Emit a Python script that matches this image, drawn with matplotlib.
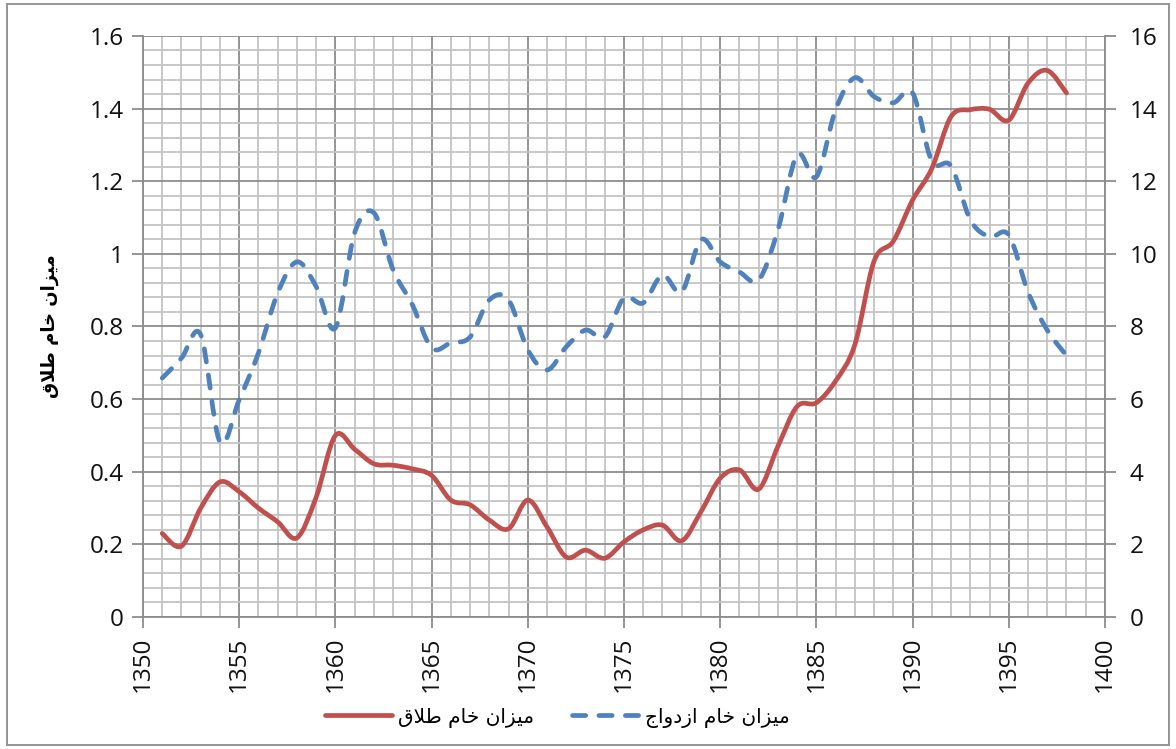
import numpy as np
import matplotlib.pyplot as plt
from matplotlib.path import Path
from matplotlib.patches import PathPatch, Rectangle
from matplotlib.lines import Line2D

#%% DATA
years = list(range(1351, 1399))

# crude divorce rate (left axis)
divorce = [0.23, 0.195, 0.30, 0.372, 0.345, 0.30, 0.262, 0.218, 0.33, 0.50,
           0.462, 0.422, 0.418, 0.408, 0.39, 0.322, 0.309, 0.267, 0.243, 0.322,
           0.248, 0.165, 0.184, 0.162, 0.207, 0.24, 0.253, 0.21, 0.29, 0.382,
           0.405, 0.352, 0.47, 0.58, 0.59, 0.65, 0.75, 0.98, 1.035, 1.148,
           1.235, 1.378, 1.397, 1.398, 1.368, 1.47, 1.505, 1.443]

# crude marriage rate (right axis)
marriage = [6.58, 7.13, 7.77, 4.82, 5.98, 7.27, 8.92, 9.78, 9.1, 7.96,
            10.58, 11.13, 9.56, 8.6, 7.41, 7.55, 7.71, 8.73, 8.73, 7.36,
            6.8, 7.44, 7.9, 7.71, 8.79, 8.65, 9.42, 8.95, 10.39, 9.78,
            9.5, 9.28, 10.66, 12.73, 12.12, 13.97, 14.85, 14.33, 14.16, 14.43,
            12.55, 12.42, 10.94, 10.47, 10.52, 8.95, 7.9, 7.2]

xticks = [1350, 1355, 1360, 1365, 1370, 1375, 1380, 1385, 1390, 1395, 1400]
left_ticks = [0, 0.2, 0.4, 0.6, 0.8, 1, 1.2, 1.4, 1.6]
left_labels = ["0", "0.2", "0.4", "0.6", "0.8", "1", "1.2", "1.4", "1.6"]
right_ticks = [0, 2, 4, 6, 8, 10, 12, 14, 16]

# persian labels, pre-shaped (presentation forms, visual order)
lbl_divorce = "\uFED5\uFEFC\uFEC3 \uFEE1\uFE8E\uFEA7 \uFEE5\uFE8D\uFEB0\uFEF4\uFEE3"
lbl_marriage = "\uFE9D\uFE8D\uFEED\uFEA9\uFEAF\uFE8D \uFEE1\uFE8E\uFEA7 \uFEE5\uFE8D\uFEB0\uFEF4\uFEE3"

RED = "#C0504D"
BLUE = "#4F81BD"
LW = 3.4
DASH = (0, (2.8, 2.8))


def smooth_path(x, y):
    # excel-like smoothed line: bezier segments through the points
    x = np.asarray(x, float)
    y = np.asarray(y, float)
    pts = np.column_stack([x, y])
    n = len(pts)
    verts = [pts[0]]
    codes = [Path.MOVETO]
    for i in range(n - 1):
        p0 = pts[i - 1] if i > 0 else pts[i]
        p1 = pts[i]
        p2 = pts[i + 1]
        p3 = pts[i + 2] if i + 2 < n else pts[i + 1]
        c1 = p1 + (p2 - p0) / 6.0
        c2 = p2 - (p3 - p1) / 6.0
        verts += [c1, c2, p2]
        codes += [Path.CURVE4] * 3
    return Path(verts, codes)


plt.rcParams['font.family'] = ['Open Sans', 'DejaVu Sans']

fig = plt.figure(figsize=(11.76, 7.49), dpi=100)
ax = fig.add_axes([0.1216, 0.1762, 0.8180, 0.7758])
ax2 = ax.twinx()

ax.set_xlim(1350, 1400)
ax.set_ylim(0, 1.6)
ax2.set_ylim(0, 16)

# grid
ax.set_xticks(xticks)
ax.set_xticks(np.arange(1350, 1401, 1), minor=True)
ax.set_yticks(left_ticks)
ax.set_yticks(np.arange(0, 1.61, 0.04), minor=True)
ax.grid(which='minor', color='#C4C4C4', linewidth=1.3)
ax.grid(which='major', color='#8C8C8C', linewidth=1.3)
ax.set_axisbelow(True)

ax.set_xticklabels([str(t) for t in xticks], rotation=90)
ax.set_yticklabels(left_labels)
ax2.set_yticks(right_ticks)
ax2.set_yticklabels([str(t) for t in right_ticks])

for a in (ax, ax2):
    for s in a.spines.values():
        s.set_visible(False)
    a.tick_params(which='major', length=8, width=1.3, color='#8C8C8C',
                  labelsize=17.5, labelcolor='#111111')
    a.tick_params(which='minor', length=0)
ax.tick_params(axis='x', pad=6)
ax.tick_params(axis='y', pad=6)
ax2.tick_params(axis='y', pad=10)
for side in ('bottom', 'left', 'right'):
    ax.spines[side].set_visible(True)
    ax.spines[side].set_color('#8C8C8C')
    ax.spines[side].set_linewidth(1.3)

# series
p_div = PathPatch(smooth_path(years, divorce), fill=False, edgecolor=RED,
                  linewidth=LW, capstyle='round', joinstyle='round', zorder=3)
ax.add_patch(p_div)
p_mar = PathPatch(smooth_path(years, marriage), fill=False, edgecolor=BLUE,
                  linewidth=LW, linestyle=DASH, capstyle='round',
                  joinstyle='round', zorder=3)
ax2.add_patch(p_mar)

ax.set_ylabel(lbl_divorce, family='DejaVu Sans', fontsize=13,
              fontweight='bold', labelpad=22)

h1 = Line2D([], [], color=RED, linewidth=LW, solid_capstyle='round')
h2 = Line2D([], [], color=BLUE, linewidth=LW, linestyle=DASH,
            dash_capstyle='round')
leg = fig.legend([h1, h2], [lbl_divorce, lbl_marriage], ncol=2,
                 loc='center', bbox_to_anchor=(0.474, 0.042), frameon=False,
                 prop={'family': 'DejaVu Sans', 'size': 14.5},
                 handlelength=3.3, columnspacing=1.9, handletextpad=0.3)

# chart area border
fig.patches.append(Rectangle((0.006, 0.005), 0.988, 0.99, transform=fig.transFigure,
                             fill=False, edgecolor='#8C8C8C', linewidth=1.3))

fig.savefig('out.png', dpi=100)
